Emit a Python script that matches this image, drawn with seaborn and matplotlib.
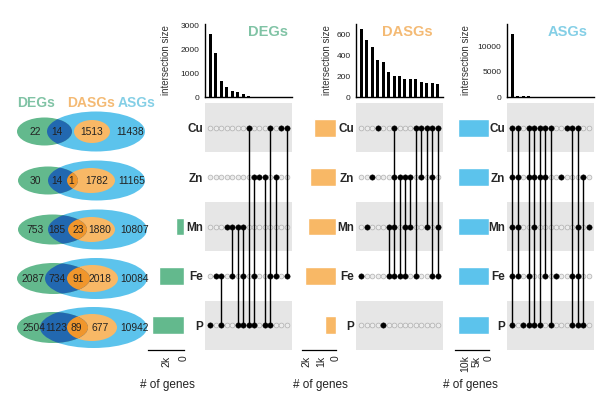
import numpy as np
import pandas as pd
import matplotlib
matplotlib.use("Agg")
import matplotlib.pyplot as plt
from matplotlib.patches import Ellipse
import seaborn as sns

# ---------------- data ----------------
sets = ["Cu", "Zn", "Mn", "Fe", "P"]

# Venn region counts (rows: Cu, Zn, Mn, Fe, P)
degs_only = [22, 30, 753, 2087, 2504]
degs_asgs = [14, 14, 185, 734, 1123]
degs_dasgs = [None, 1, 23, 91, 89]
dasgs_only = [1513, 1782, 1880, 2018, 677]
asgs_only = [11438, 11165, 10807, 10084, 10942]

# set sizes (from the Venn counts)
deg_size = [a + b + (c or 0) for a, b, c in zip(degs_only, degs_asgs, degs_dasgs)]
dasg_size = [d + (c or 0) for c, d in zip(degs_dasgs, dasgs_only)]
asg_size = [b + (c or 0) + d + e for b, c, d, e in zip(degs_asgs, degs_dasgs, dasgs_only, asgs_only)]

# UpSet intersections
deg_combos = [["P"], ["Fe"], ["Fe", "P"], ["Mn"], ["Mn", "Fe"], ["Mn", "P"], ["Mn", "Fe", "P"],
              ["Cu", "P"], ["Zn", "Fe", "P"], ["Zn"], ["Zn", "P"], ["Cu", "Fe", "P"],
              ["Zn", "Fe"], ["Cu"], ["Cu", "Fe"]]
deg_inter = [2650, 1830, 660, 410, 240, 200, 125, 25, 20, 17, 14, 12, 10, 8, 6]

dasg_combos = [["Fe"], ["Mn"], ["Zn"], ["Cu"], ["P"], ["Mn", "Fe"], ["Cu", "Zn", "Mn", "Fe"],
               ["Zn", "Fe"], ["Zn", "Mn", "Fe"], ["Zn", "Mn"], ["Cu", "Fe"], ["Cu", "Zn"],
               ["Cu", "Mn"], ["Cu", "Zn", "Fe"], ["Cu", "Mn", "Fe"]]
dasg_inter = [659, 552, 479, 362, 341, 238, 203, 203, 176, 172, 172, 141, 138, 134, 128]

asg_combos = [["Cu", "Zn", "Mn", "Fe", "P"], ["Cu", "Zn", "Mn", "Fe"], ["P"], ["Cu", "Zn", "Fe", "P"],
              ["Cu", "Zn", "Mn", "P"], ["Cu", "Zn", "P"], ["Cu", "Zn", "Fe"], ["Cu", "P"], ["Fe"],
              ["Zn"], ["Cu"], ["Cu", "Fe", "P"], ["Cu", "Mn", "Fe", "P"], ["Zn", "P"], ["Mn"]]
asg_inter = [12530, 150, 120, 100, 90, 80, 70, 60, 55, 50, 45, 40, 35, 30, 25]

# ---------------- style ----------------
sns.set_style("white")
plt.rcParams["font.family"] = ["Liberation Sans", "DejaVu Sans"]

GREEN = "#63b98d"
BLUE = "#5cc3ec"
DBLUE = "#2268b0"
ORANGE = "#f8b866"
DORANGE = "#f0962c"
T_GREEN = "#80c3a5"
T_ORANGE = "#f4ba74"
T_BLUE = "#84cfe6"
BAND = "#e6e6e6"

W, H = 599, 399
fig = plt.figure(figsize=(W / 100, H / 100), dpi=100)


def box(x0, y0, x1, y1):
    return [x0 / W, 1 - y1 / H, (x1 - x0) / W, (y1 - y0) / H]


bg = fig.add_axes([0, 0, 1, 1])
bg.set_xlim(0, W)
bg.set_ylim(H, 0)
bg.axis("off")

# ---------------- Venn column ----------------
venn_y = [131.5, 180.5, 229.5, 278.5, 327.5]
green_geo = [(44.5, 55, 28), (48, 60, 28), (52.5, 69, 30), (53.5, 73, 31), (52.5, 71, 31)]
blue_geo = [(96, 98, 40), (96.5, 97, 40), (97.5, 99, 40), (96, 102, 41), (93.5, 107, 41)]
orange_geo = [(92, 36, 23), (91, 48, 25), (91.5, 47, 25), (92.5, 51, 27), (92, 50, 27)]
text_x = [(35, 57, None, 92, 130), (35, 57, 71, 97, 131.5), (35, 57, 78, 100, 134.5),
          (33.5, 57, 78, 100, 134.5), (33.5, 56, 76, 100, 134.5)]
num_font = ["Liberation Sans Narrow", "Liberation Sans", "DejaVu Sans"]

for i in range(5):
    cy = venn_y[i]
    bl = Ellipse((blue_geo[i][0], cy), blue_geo[i][1], blue_geo[i][2], facecolor=BLUE, edgecolor="none")
    bg.add_patch(bl)
    gr = Ellipse((green_geo[i][0], cy), green_geo[i][1], green_geo[i][2], facecolor=GREEN, edgecolor="none")
    bg.add_patch(gr)
    orp = Ellipse((orange_geo[i][0], cy), orange_geo[i][1], orange_geo[i][2], facecolor=ORANGE, edgecolor="none")
    bg.add_patch(orp)
    db = Ellipse((green_geo[i][0], cy), green_geo[i][1], green_geo[i][2], facecolor=DBLUE, edgecolor="none")
    bg.add_patch(db)
    db.set_clip_path(bl)
    do = Ellipse((green_geo[i][0], cy), green_geo[i][1], green_geo[i][2], facecolor=DORANGE, edgecolor="none")
    bg.add_patch(do)
    do.set_clip_path(orp)
    vals = [degs_only[i], degs_asgs[i], degs_dasgs[i], dasgs_only[i], asgs_only[i]]
    for v, x in zip(vals, text_x[i]):
        if v is None or x is None:
            continue
        bg.text(x, cy + 0.5, str(v), ha="center", va="center", fontsize=7.4,
                family=num_font, color="#222222")

bg.text(36, 103, "DEGs", ha="center", va="center", fontsize=10, fontweight="bold", color=T_GREEN)
bg.text(91, 103, "DASGs", ha="center", va="center", fontsize=10, fontweight="bold", color=T_ORANGE)
bg.text(137, 103, "ASGs", ha="center", va="center", fontsize=10, fontweight="bold", color=T_BLUE)

# ---------------- UpSet panels ----------------
groups = [
    dict(name="DEGs", combos=deg_combos, inter=deg_inter, size=deg_size, color=GREEN, tcolor=T_GREEN,
         set_x=(148, 184), mat_x=(205, 292), ymax=3070, yticks=[0, 1000, 2000, 3000],
         smax=4180, sticks=[2000, 0], slabels=["2k", "0"], ylab_x=166, title_x=268, genes_x=167),
    dict(name="DASGs", combos=dasg_combos, inter=dasg_inter, size=dasg_size, color=ORANGE, tcolor=T_ORANGE,
         set_x=(302, 336), mat_x=(356, 443), ymax=706, yticks=[0, 200, 400, 600],
         smax=2313, sticks=[2000, 1000, 0], slabels=["2k", "1k", "0"], ylab_x=327, title_x=407, genes_x=320),
    dict(name="ASGs", combos=asg_combos, inter=asg_inter, size=asg_size, color=BLUE, tcolor=T_BLUE,
         set_x=(455, 489), mat_x=(507, 594), ymax=14500, yticks=[0, 5000, 10000],
         smax=14100, sticks=[10000, 5000, 0], slabels=["10k", "5k", "0"], ylab_x=466, title_x=568, genes_x=470),
]

MAT_TOP, MAT_BOT = 103, 350
BAR_TOP, BAR_BOT = 24, 97

for g in groups:
    n = len(g["combos"])
    # intersection-size bars
    axb = fig.add_axes(box(g["mat_x"][0], BAR_TOP, g["mat_x"][1], BAR_BOT))
    axb.patch.set_visible(False)
    dfb = pd.DataFrame({"col": list(range(n)), "size": g["inter"]})
    sns.barplot(data=dfb, x="col", y="size", color="black", width=0.56, ax=axb, saturation=1,
                edgecolor="none")
    axb.set_xlim(-1, n)
    axb.set_ylim(0, g["ymax"])
    axb.set_yticks(g["yticks"])
    axb.set_xticks([])
    axb.set_xlabel("")
    axb.set_ylabel("")
    axb.tick_params(axis="y", labelsize=6, length=2.5, width=0.8, pad=1.5, colors="#222222")
    for s in ["top", "right"]:
        axb.spines[s].set_visible(False)
    for s in ["left", "bottom"]:
        axb.spines[s].set_color("black")
        axb.spines[s].set_linewidth(1.0)
    axb.text(g["title_x"], 32, g["name"], transform=bg.transData, ha="center", va="center",
             fontsize=10.5, fontweight="bold", color=g["tcolor"])
    bg.text(g["ylab_x"], 60, "intersection size", rotation=90, ha="center", va="center",
            fontsize=7, color="#333333")

    # matrix
    axm = fig.add_axes(box(g["mat_x"][0], MAT_TOP, g["mat_x"][1], MAT_BOT))
    axm.patch.set_visible(False)
    for r in [0, 2, 4]:
        axm.axhspan(r - 0.5, r + 0.5, color=BAND, lw=0, zorder=0)
    rows = []
    for c, combo in enumerate(g["combos"]):
        for r, s in enumerate(sets):
            rows.append(dict(col=c, row=r, member=s in combo))
    dfm = pd.DataFrame(rows)
    sns.scatterplot(data=dfm[~dfm["member"]], x="col", y="row", s=12, facecolor="#ececec",
                    edgecolor="#a9a9a9", linewidth=0.45, ax=axm, zorder=2)
    for c, combo in enumerate(g["combos"]):
        idx = [sets.index(s) for s in combo]
        if len(idx) > 1:
            axm.vlines(c, min(idx), max(idx), color="black", lw=1.0, zorder=3)
    sns.scatterplot(data=dfm[dfm["member"]], x="col", y="row", s=15, color="black",
                    edgecolor="black", linewidth=0.3, ax=axm, zorder=4)
    axm.set_xlim(-1, n)
    axm.set_ylim(4.5, -0.5)
    axm.set_xticks([])
    axm.set_yticks(range(5))
    axm.set_yticklabels(sets, fontsize=8.5, fontweight="bold")
    axm.tick_params(axis="y", length=0, pad=1.5)
    axm.set_xlabel("")
    axm.set_ylabel("")
    for s in axm.spines.values():
        s.set_visible(False)

    # set-size bars
    axs = fig.add_axes(box(g["set_x"][0], MAT_TOP, g["set_x"][1], MAT_BOT))
    axs.patch.set_visible(False)
    dfs = pd.DataFrame({"set": sets, "size": g["size"]})
    sns.barplot(data=dfs, x="size", y="set", orient="h", color=g["color"], width=0.36,
                saturation=1, ax=axs)
    axs.set_xlim(g["smax"], 0)
    axs.set_ylim(4.5, -0.5)
    axs.set_yticks([])
    axs.set_xticks(g["sticks"])
    axs.set_xticklabels(g["slabels"], rotation=90, fontsize=7.5)
    axs.tick_params(axis="x", length=2.5, width=0.8, pad=1.5, colors="#222222")
    axs.set_xlabel("")
    axs.set_ylabel("")
    for s in ["top", "right", "left"]:
        axs.spines[s].set_visible(False)
    axs.spines["bottom"].set_color("black")
    axs.spines["bottom"].set_linewidth(0.9)
    bg.text(g["genes_x"], 385, "# of genes", ha="center", va="center", fontsize=8.5, color="#222222")

fig.savefig("out.png", dpi=100)
